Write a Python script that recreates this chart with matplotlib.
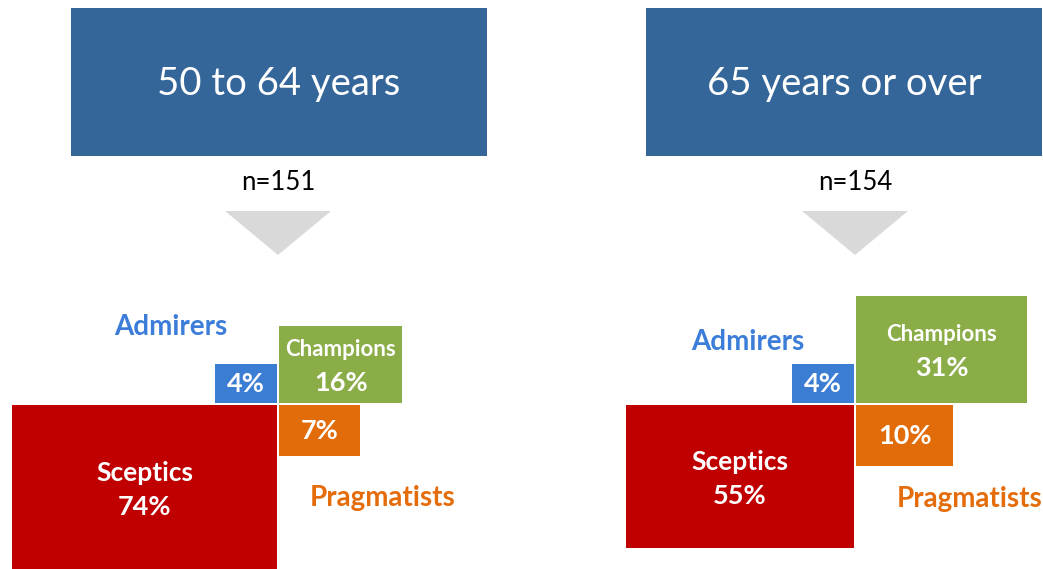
import numpy as np
import matplotlib.pyplot as plt
from matplotlib.patches import Rectangle, Polygon

plt.rcParams['font.family'] = ['Lato', 'DejaVu Sans']

# data
groups = ['50 to 64 years', '65 years or over']
sample_sizes = [151, 154]
segments = ['Admirers', 'Champions', 'Pragmatists', 'Sceptics']
shares_50_64 = [4, 16, 7, 74]
shares_65_plus = [4, 31, 10, 55]
all_shares = [shares_50_64, shares_65_plus]

seg_colors = {'Admirers': '#3B7DD3', 'Champions': '#8BAD48',
              'Pragmatists': '#E36C0A', 'Sceptics': '#C00000'}
label_colors = {'Admirers': '#3B7DD8', 'Pragmatists': '#E46C0A'}
# quadrant each segment goes to (dx, dy) from the centre, y grows downwards
quadrant = {'Admirers': (-1, -1), 'Champions': (1, -1),
            'Pragmatists': (1, 1), 'Sceptics': (-1, 1)}

fig = plt.figure(figsize=(10.43, 5.69), dpi=100)
ax = fig.add_axes([0, 0, 1, 1])
ax.set_xlim(0, 1043)
ax.set_ylim(569, 0)
ax.axis('off')

centres_x = [278, 855]
centre_y = 404
box_x = [(71, 487), (646, 1042)]
admirer_lab = [(171, 327), (748, 342)]
pragm_lab = [(383, 498), (970, 499)]
kw = 30.8   # px per sqrt(%) width
kh = 19.3   # px per sqrt(%) height
gap = 1

for i, grp in enumerate(groups):
    cx = centres_x[i]
    x0, x1 = box_x[i]
    ax.add_patch(Rectangle((x0, 8), x1 - x0, 148, color='#346699', lw=0))
    ax.text((x0 + x1) / 2, 84, grp, color='white', fontsize=27.5,
            ha='center', va='center')
    ax.text(cx, 182, 'n=%d' % sample_sizes[i], fontsize=18.5,
            ha='center', va='center', color='black')
    ax.add_patch(Polygon([(cx - 53, 211), (cx + 53, 211), (cx, 255)],
                         closed=True, color='#D9D9D9', lw=0))

    for seg, p in zip(segments, all_shares[i]):
        w = kw * np.sqrt(p)
        h = kh * np.sqrt(p)
        dx, dy = quadrant[seg]
        left = cx + gap if dx > 0 else cx - gap - w
        top = centre_y + gap if dy > 0 else centre_y - gap - h
        ax.add_patch(Rectangle((left, top), w, h, color=seg_colors[seg], lw=0))
        mx, my = left + w / 2, top + h / 2
        if seg in ('Champions', 'Sceptics'):
            fs = 16 if seg == 'Champions' else 19
            ax.text(mx, my - 15, seg, color='white', fontsize=fs,
                    fontweight='bold', ha='center', va='center')
            ax.text(mx, my + 19, '%d%%' % p, color='white', fontsize=19.5,
                    fontweight='bold', ha='center', va='center')
        else:
            ax.text(mx, my, '%d%%' % p, color='white', fontsize=19.5,
                    fontweight='bold', ha='center', va='center')

    ax.text(*admirer_lab[i], 'Admirers', color=label_colors['Admirers'],
            fontsize=20, fontweight='bold', ha='center', va='center')
    ax.text(*pragm_lab[i], 'Pragmatists', color=label_colors['Pragmatists'],
            fontsize=20, fontweight='bold', ha='center', va='center')

fig.savefig('out.png', dpi=100)
